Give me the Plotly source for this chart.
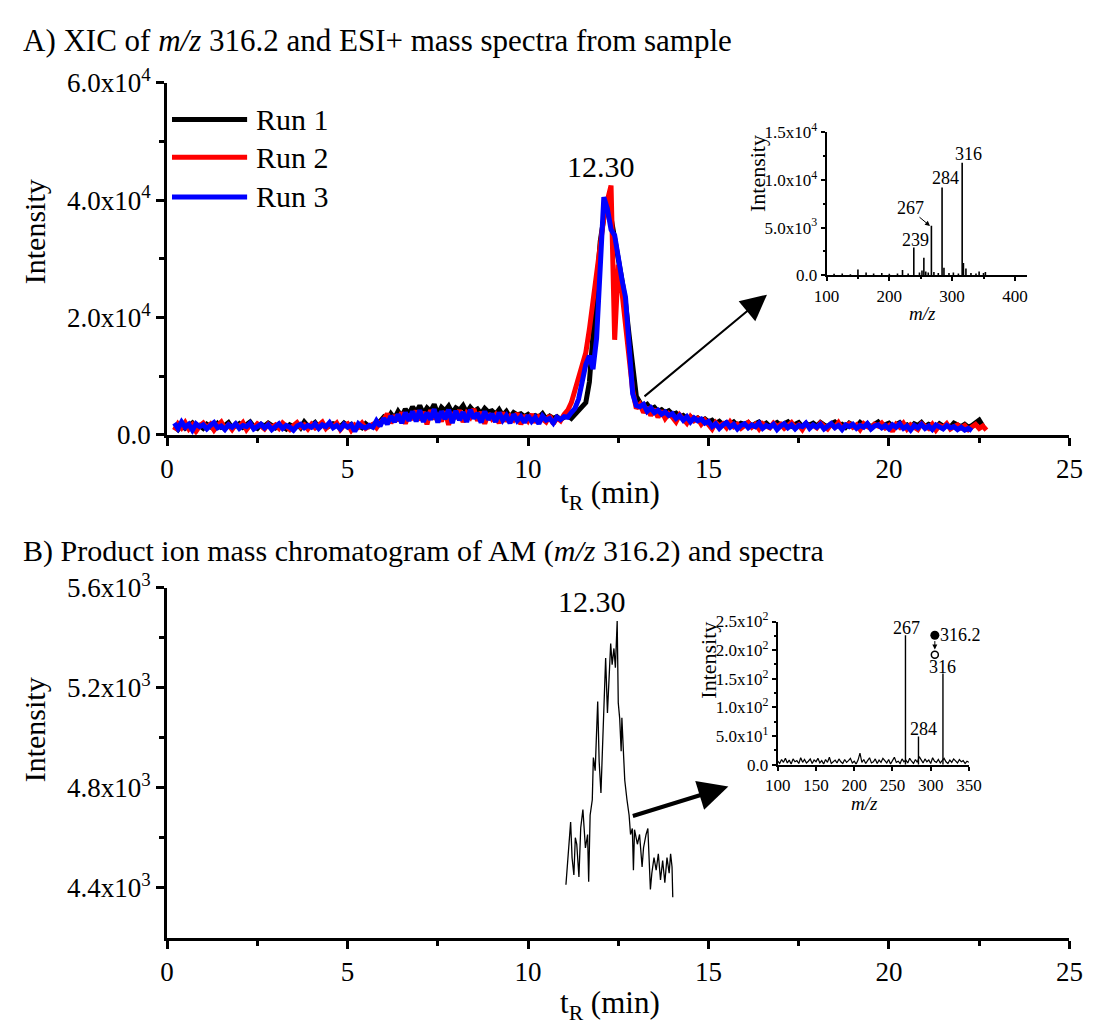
import plotly.graph_objects as go

FONT = "Liberation Serif"

# ---- A) XIC of m/z 316.2, intensity in hundreds of counts, one value every 0.1 min from 0.2 min
run1 = [14, 9, 17, 11, 15, 20, 12, 16,
        11, 18, 14, 10, 19, 13, 16, 21, 12, 15,
        19, 13, 17, 22, 14, 11, 18, 15, 20, 16,
        12, 18, 15, 10, 17, 14, 19, 12, 22, 15,
        16, 21, 13, 18, 12, 15, 19, 17, 14, 20,
        15, 18, 11, 16, 12, 19, 14, 17, 20, 23,
        30, 25, 36, 28, 40, 31, 44, 35, 48, 38,
        50, 36, 46, 40, 52, 35, 47, 41, 49, 37,
        46, 42, 50, 38, 47, 40, 44, 36, 45, 39,
        41, 35, 43, 33, 40, 30, 38, 34, 36, 31,
        35, 29, 33, 30, 36, 27, 32, 28, 31, 26,
        30, 33, 28, 35, 40, 50, 55, 90, 180, 260,
        330, 370, 390, 370, 330, 300, 265, 225, 170, 110,
        66, 55, 48, 52, 44, 47, 40, 43, 38, 41,
        35, 37, 30, 33, 28, 31, 26, 29, 24, 27,
        22, 25, 19, 23, 17, 21, 18, 22, 16, 20,
        18, 21, 15, 19, 22, 16, 20, 14, 18, 21,
        16, 19, 22, 15, 18, 21, 14, 19, 17, 20,
        15, 21, 17, 14, 19, 22, 16, 18, 13, 20,
        17, 14, 21, 16, 19, 13, 18, 22, 15, 17,
        20, 14, 18, 21, 15, 17, 12, 19, 16, 21,
        14, 18, 16, 12, 19, 15, 17, 13, 20, 16,
        14, 18, 13, 16, 21, 25, 15]

run2 = [8, 19, 12, 21, 10, 17, 6, 15,
        20, 12, 18, 8, 16, 22, 11, 17, 9, 18,
        14, 21, 9, 17, 12, 19, 15, 10, 18, 13,
        17, 11, 20, 14, 9, 16, 21, 13, 17, 10,
        18, 12, 16, 22, 11, 17, 14, 20, 9, 16,
        19, 8, 17, 13, 20, 11, 15, 18, 12, 21,
        26, 36, 20, 33, 24, 38, 19, 35, 26, 41,
        25, 39, 18, 42, 27, 36, 23, 40, 17, 38,
        28, 42, 22, 37, 30, 44, 24, 39, 19, 36,
        27, 34, 20, 38, 23, 32, 26, 37, 18, 33,
        24, 35, 21, 31, 27, 22, 33, 19, 29, 24,
        35, 42, 55, 75, 100, 120, 140, 180, 230, 275,
        320, 370, 400, 425, 162, 290, 245, 190, 130, 75,
        45, 52, 38, 47, 33, 44, 30, 41, 28, 36,
        30, 22, 34, 26, 20, 31, 24, 28, 18, 25,
        17, 10, 21, 15, 19, 12, 22, 14, 18, 11,
        16, 21, 13, 18, 10, 19, 15, 12, 20, 14,
        18, 11, 16, 21, 13, 17, 9, 19, 14, 16,
        12, 20, 15, 10, 18, 13, 21, 11, 16, 19,
        13, 17, 9, 19, 14, 11, 18, 15, 20, 12,
        16, 6, 18, 13, 20, 10, 17, 14, 9, 19,
        15, 11, 18, 8, 16, 13, 19, 10, 14, 17,
        12, 16, 9, 14, 18, 11, 15, 8]

run3 = [20, 11, 22, 13, 18, 8, 19, 14,
        17, 10, 16, 21, 12, 15, 9, 17, 13, 19,
        11, 16, 14, 20, 10, 15, 18, 12, 17, 9,
        14, 19, 11, 16, 13, 8, 15, 18, 12, 16,
        13, 19, 11, 17, 14, 21, 12, 16, 10, 18,
        13, 17, 6, 19, 14, 12, 16, 13, 24, 15,
        28, 18, 32, 22, 35, 20, 38, 24, 40, 23,
        42, 22, 38, 26, 44, 21, 40, 27, 43, 20,
        41, 25, 39, 22, 43, 28, 37, 21, 40, 26,
        36, 22, 38, 25, 33, 20, 35, 24, 31, 21,
        33, 23, 30, 19, 32, 25, 28, 20, 30, 26,
        31, 30, 38, 45, 61, 95, 120, 135, 112, 165,
        300, 405, 385, 350, 340, 300, 265, 235, 160, 70,
        50, 48, 52, 40, 46, 38, 42, 35, 39, 33,
        36, 28, 33, 25, 31, 22, 29, 24, 27, 20,
        23, 14, 19, 11, 17, 21, 13, 18, 10, 16,
        19, 12, 17, 14, 20, 11, 16, 13, 18, 9,
        15, 19, 12, 17, 10, 16, 14, 20, 11, 17,
        13, 18, 10, 15, 19, 12, 16, 9, 17, 14,
        18, 11, 16, 13, 19, 10, 15, 17, 12, 16,
        10, 17, 13, 19, 11, 15, 8, 16, 12, 18,
        11, 15, 9, 17, 13, 10, 16, 12, 14, 9,
        13, 8, 11, 7]

run_names = ["Run 1", "Run 2", "Run 3"]
run_colors = ["black", "#ff0000", "#0000ff"]

# ---- B) product ion chromatogram
tb = [11.05, 11.12, 11.18, 11.22, 11.27, 11.31, 11.35, 11.41, 11.46, 11.52,
      11.59, 11.65, 11.68, 11.72, 11.78, 11.81, 11.86, 11.93, 11.97, 12.02,
      12.08, 12.15, 12.20, 12.24, 12.29, 12.33, 12.38, 12.42, 12.47, 12.50,
      12.54, 12.58, 12.60, 12.65, 12.68, 12.74, 12.80, 12.84, 12.89, 12.92,
      12.95, 13.03, 13.09, 13.16, 13.20, 13.27, 13.32, 13.39, 13.43, 13.49,
      13.55, 13.61, 13.67, 13.73, 13.79, 13.85, 13.91, 13.95, 13.99, 14.01]
vb = [4412, 4560, 4663, 4520, 4451, 4600, 4574, 4443, 4640, 4713,
      4559, 4613, 4424, 4690, 4752, 4921, 4868, 5145, 4906, 4779,
      5022, 5319, 5099, 5242, 5377, 5292, 5357, 5280, 5467, 5139,
      5076, 4946, 5080, 4921, 4830, 4753, 4690, 4613, 4637, 4470,
      4632, 4574, 4613, 4483, 4560, 4613, 4637, 4393, 4458, 4521,
      4470, 4536, 4431, 4509, 4420, 4521, 4458, 4536, 4483, 4362]

# ---- inset A: ESI+ mass spectrum
mz_a = [112, 125, 138, 150, 163, 175, 188, 200, 213, 221, 230, 239, 248, 252, 255,
        258, 262, 267, 271, 278, 284, 287, 295, 302, 310, 316, 318, 322, 330, 338,
        343, 350, 353]
int_a = [150, 200, 120, 600, 300, 200, 250, 150, 200, 550, 180, 2900, 300, 500, 1850,
         400, 300, 5200, 350, 250, 9200, 800, 250, 300, 200, 11800, 1300, 700, 250, 200,
         400, 250, 350]

# ---- inset B: product ion spectrum of m/z 316.2
noise_b = [6, 2, 9, 4, 11, 3, 8, 1, 10, 5, 7, 2, 12, 4, 9, 3, 6, 10, 2, 8,
           5, 11, 3, 7, 1, 9, 4, 13, 2, 6, 8, 3, 10, 5, 2, 9, 4, 7, 11, 3,
           6, 1, 8, 20, 4, 9, 2, 7, 12, 3, 5, 10, 2, 8, 4, 11, 6, 3, 9, 1,
           7, 13, 4, 6, 2, 10, 5, 8, 3, 11, 6, 2, 9, 4, 14, 7, 3, 10, 5, 8,
           2, 12, 6, 4, 9, 3, 7, 11, 5, 2, 8, 4, 10, 6, 3, 9, 5, 7, 2, 6, 4]
mz_b = [267, 284, 316]
int_b = [226, 49, 159]
precursor_mz = [305.4]
precursor_int = [226]
product_int = [192]


def px(v):
    return v / 1100


def py(v):
    return 1 - v / 1034


def stems(mz, inten):
    xs, ys = [], []
    for m, i in zip(mz, inten):
        xs += [m, m, None]
        ys += [0, i, None]
    return xs, ys


fig = go.Figure()

for name, vals, color in zip(run_names, [run1, run2, run3], run_colors):
    t = [round(0.2 + 0.1 * i, 1) for i in range(len(vals))]
    fig.add_trace(go.Scatter(x=t, y=[v * 100 for v in vals], mode='lines', name=name,
                             line=dict(color=color, width=5), xaxis='x', yaxis='y'))

fig.add_trace(go.Scatter(x=tb, y=vb, mode='lines', line=dict(color='black', width=1.3),
                         xaxis='x2', yaxis='y2'))

xs, ys = stems(mz_a, int_a)
fig.add_trace(go.Scatter(x=xs, y=ys, mode='lines', line=dict(color='black', width=1.6),
                         xaxis='x3', yaxis='y3'))

mz_noise = [100 + 250 * i / (len(noise_b) - 1) for i in range(len(noise_b))]
fig.add_trace(go.Scatter(x=mz_noise, y=noise_b, mode='lines', line=dict(color='black', width=1.2),
                         xaxis='x4', yaxis='y4'))
xs, ys = stems(mz_b, int_b)
fig.add_trace(go.Scatter(x=xs, y=ys, mode='lines', line=dict(color='black', width=1.4),
                         xaxis='x4', yaxis='y4'))
fig.add_trace(go.Scatter(x=precursor_mz, y=precursor_int, mode='markers',
                         marker=dict(color='black', size=9), xaxis='x4', yaxis='y4'))
fig.add_trace(go.Scatter(x=precursor_mz, y=product_int, mode='markers',
                         marker=dict(symbol='circle-open', color='black', size=7, line=dict(width=1.5)),
                         xaxis='x4', yaxis='y4'))

main_ax = dict(showline=True, linewidth=3, linecolor='black', ticks='outside', ticklen=8,
               tickwidth=3, tickcolor='black', showgrid=False, zeroline=False,
               tickfont=dict(family=FONT, size=27, color='black'), mirror=False)
inset_ax = dict(showline=True, linewidth=2, linecolor='black', ticks='outside', ticklen=4,
                tickwidth=2, tickcolor='black', showgrid=False, zeroline=False,
                tickfont=dict(family=FONT, size=17, color='black'), mirror=False)

x_ticks = [0, 5, 10, 15, 20, 25]
x_minor = dict(tickvals=[2.5, 7.5, 12.5, 17.5, 22.5], ticklen=5, tickwidth=3, ticks='outside',
               tickcolor='black')

fig.update_layout(
    autosize=True,
    margin=dict(l=0, r=0, t=0, b=0),
    paper_bgcolor='white', plot_bgcolor='white',
    showlegend=False,
    font=dict(family=FONT, color='black'),
    xaxis=dict(main_ax, domain=[px(158), px(1083)], range=[0, 25], anchor='y',
               tickvals=x_ticks, minor=x_minor),
    yaxis=dict(main_ax, domain=[py(430), py(66)], range=[0, 60000], anchor='x',
               tickvals=[0, 20000, 40000, 60000],
               ticktext=['0.0', '2.0x10<sup>4</sup>', '4.0x10<sup>4</sup>', '6.0x10<sup>4</sup>'],
               minor=dict(tickvals=[10000, 30000, 50000], ticklen=5, tickwidth=3,
                          ticks='outside', tickcolor='black')),
    xaxis2=dict(main_ax, domain=[px(158), px(1083)], range=[0, 25], anchor='y2',
                tickvals=x_ticks, minor=x_minor),
    yaxis2=dict(main_ax, domain=[py(950), py(588)], range=[4200, 5600], anchor='x2',
                tickvals=[4400, 4800, 5200, 5600],
                ticktext=['4.4x10<sup>3</sup>', '4.8x10<sup>3</sup>', '5.2x10<sup>3</sup>',
                          '5.6x10<sup>3</sup>'],
                minor=dict(tickvals=[4600, 5000, 5400], ticklen=5, tickwidth=3,
                           ticks='outside', tickcolor='black')),
    xaxis3=dict(inset_ax, domain=[px(834), px(1040)], range=[100, 420], anchor='y3',
                tickvals=[100, 200, 300, 400],
                minor=dict(tickvals=[150, 250, 350], ticklen=2, tickwidth=2, ticks='outside',
                           tickcolor='black')),
    yaxis3=dict(inset_ax, domain=[py(265), py(117)], range=[0, 15000], anchor='x3',
                tickvals=[0, 5000, 10000, 15000],
                ticktext=['0.0', '5.0x10<sup>3</sup>', '1.0x10<sup>4</sup>', '1.5x10<sup>4</sup>'],
                minor=dict(tickvals=[2500, 7500, 12500], ticklen=2, tickwidth=2,
                           ticks='outside', tickcolor='black')),
    xaxis4=dict(inset_ax, domain=[px(784), px(980)], range=[100, 350], anchor='y4',
                tickvals=[100, 150, 200, 250, 300, 350]),
    yaxis4=dict(inset_ax, domain=[py(771), py(623)], range=[0, 250], anchor='x4',
                tickvals=[0, 50, 100, 150, 200, 250],
                ticktext=['0.0', '5.0x10<sup>1</sup>', '1.0x10<sup>2</sup>', '1.5x10<sup>2</sup>',
                          '2.0x10<sup>2</sup>', '2.5x10<sup>2</sup>'],
                minor=dict(tickvals=[25, 75, 125, 175, 225], ticklen=2, tickwidth=2,
                           ticks='outside', tickcolor='black')),
)

ann = []


def text(x, y, s, size, xref='paper', yref='paper', xanchor='center', yanchor='middle', angle=0):
    ann.append(dict(x=x, y=y, text=s, xref=xref, yref=yref, xanchor=xanchor, yanchor=yanchor,
                    showarrow=False, textangle=angle, font=dict(family=FONT, size=size, color='black')))


# panel titles
text(px(8), py(22), "A) XIC of <i>m/z</i> 316.2 and ESI+ mass spectra from sample", 31, xanchor='left')
text(px(8), py(550), "B) Product ion mass chromatogram of AM (<i>m/z</i> 316.2) and spectra", 30,
     xanchor='left')

# main axis titles
text(px(22), py(220), "Intensity", 30, angle=-90)
text(px(22), py(735), "Intensity", 30, angle=-90)
text(px(612), py(492), "t<sub>R</sub> (min)", 31)
text(px(612), py(1020), "t<sub>R</sub> (min)", 31)

# inset axis titles
text(px(763), py(160), "Intensity", 22, angle=-90)
text(px(932), py(304), "<i>m/z</i>", 19)
text(px(713), py(663), "Intensity", 22, angle=-90)
text(px(873), py(811), "<i>m/z</i>", 19)

# retention time labels
text(12.03, 45800, "12.30", 30, xref='x', yref='y')
text(11.76, 5546, "12.30", 30, xref='x2', yref='y2')

# peak labels inset A
text(241.5, 3750, "239", 18, xref='x3', yref='y3')
text(233.7, 7100, "267", 18, xref='x3', yref='y3')
text(289, 10200, "284", 18, xref='x3', yref='y3')
text(325.5, 12670, "316", 18, xref='x3', yref='y3')

# peak labels inset B
text(268, 238, "267", 18, xref='x4', yref='y4')
text(290, 62, "284", 18, xref='x4', yref='y4')
text(315, 171, "316", 18, xref='x4', yref='y4')
text(310, 226, "316.2", 18, xref='x4', yref='y4', xanchor='left')

# legend
legend_y = [104, 143, 184]
shapes = []
for name, color, yy in zip(run_names, run_colors, legend_y):
    shapes.append(dict(type='line', xref='paper', yref='paper', x0=px(163), x1=px(240),
                       y0=py(yy), y1=py(yy), line=dict(color=color, width=5)))
    text(px(247), py(yy), name, 30, xanchor='left')


def arrow(x, y, ax, ay, xref, yref, width, size, head=2):
    ann.append(dict(x=x, y=y, ax=ax, ay=ay, xref=xref, yref=yref, text='', showarrow=True,
                    arrowhead=head, arrowwidth=width, arrowsize=size, arrowcolor='black',
                    standoff=0, startstandoff=0))


arrow(16.62, 23900, -124, 103, 'x', 'y', 2, 2.6)
arrow(15.55, 4805, -97, 30, 'x2', 'y2', 4, 1.5)
arrow(264.8, 5170, -12, -10, 'x3', 'y3', 1, 1)
arrow(305.4, 201, 0, -10, 'x4', 'y4', 1, 1)

fig.update_layout(annotations=ann, shapes=shapes)

fig.write_html(
    "out.html",
    config={'displayModeBar': False, 'responsive': True},
    default_width='100vw', default_height='100vh',
    post_script=("document.documentElement.style.margin='0';document.body.style.margin='0';"
                 "document.body.style.overflow='hidden';"
                 "Plotly.Plots.resize(document.getElementById('{plot_id}'));"),
)
